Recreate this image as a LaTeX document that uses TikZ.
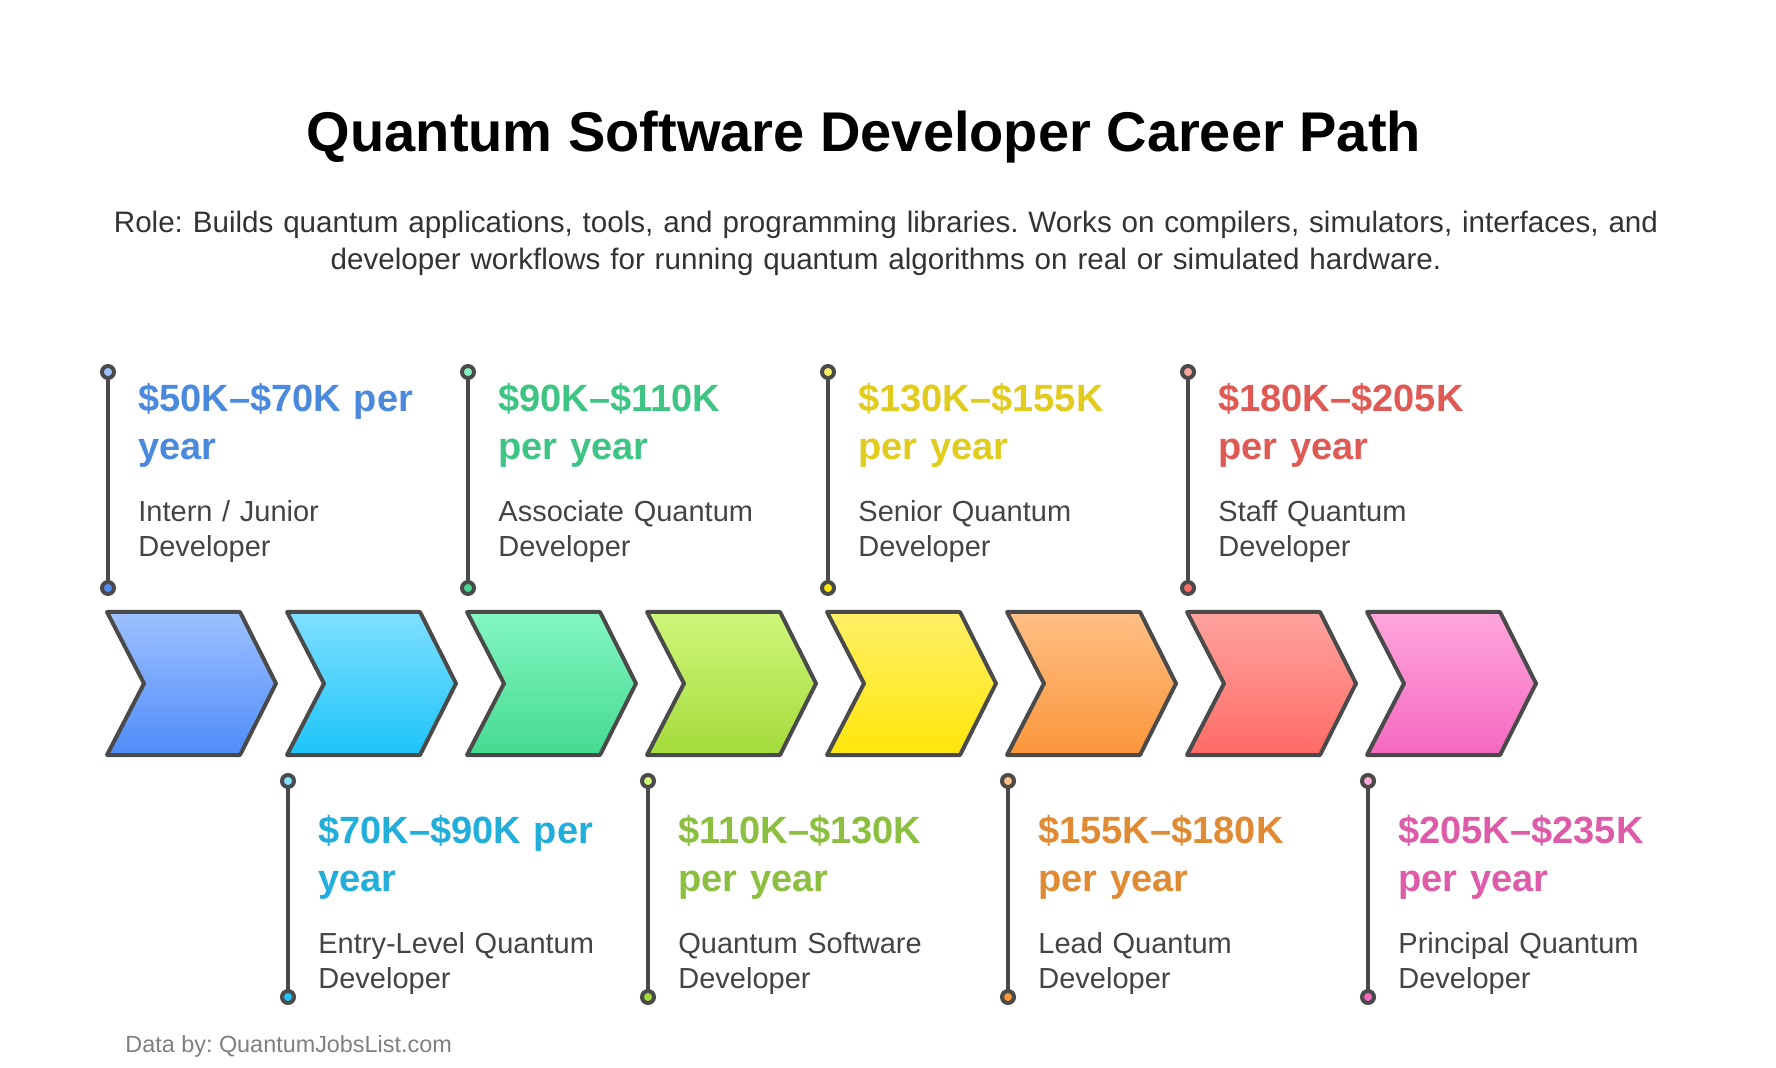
\documentclass[tikz,border=0pt]{standalone}
\usepackage{fontspec}
\setmainfont{Liberation Sans}
\frenchspacing

\definecolor{edgegray}{HTML}{4A4A4A}
\definecolor{rolegray}{HTML}{444444}
\definecolor{subgray}{HTML}{333333}
\definecolor{footgray}{HTML}{808080}
\definecolor{blueA}{HTML}{9DC1FF}\definecolor{blueB}{HTML}{4F8CF8}\definecolor{blueT}{HTML}{4A89DC}
\definecolor{cyanA}{HTML}{80E0FF}\definecolor{cyanB}{HTML}{1CC4F9}\definecolor{cyanT}{HTML}{22AEDB}
\definecolor{greenA}{HTML}{83F7C3}\definecolor{greenB}{HTML}{45DA90}\definecolor{greenT}{HTML}{3EC583}
\definecolor{limeA}{HTML}{CEF77A}\definecolor{limeB}{HTML}{A5DB3B}\definecolor{limeT}{HTML}{8CBF3F}
\definecolor{yellowA}{HTML}{FFF066}\definecolor{yellowB}{HTML}{FFE60A}\definecolor{yellowT}{HTML}{E1CB1C}
\definecolor{orangeA}{HTML}{FFBF85}\definecolor{orangeB}{HTML}{FA963A}\definecolor{orangeT}{HTML}{E08B34}
\definecolor{redA}{HTML}{FFA39E}\definecolor{redB}{HTML}{FF6B66}\definecolor{redT}{HTML}{E05A55}
\definecolor{pinkA}{HTML}{FFA6DC}\definecolor{pinkB}{HTML}{F568C0}\definecolor{pinkT}{HTML}{DE5BA9}

\begin{document}
\begin{tikzpicture}[x=0.5pt, y=-0.5pt,
    chevron/.style={draw=edgegray, line width=2pt, line join=round},
    marker/.style={draw=edgegray, line width=2.2pt},
    dot/.style={draw=edgegray, line width=2pt},
    price/.style={anchor=base west, inner sep=0, text width=170pt, align=left, font=\bfseries\fontsize{19}{24}\selectfont},
    role/.style={anchor=base west, inner sep=0, text width=170pt, align=left, text=rolegray, font=\fontsize{14.5}{17.5}\selectfont}
    ]

    \fill[white] (0,0) rectangle (1776,1068);
    \useasboundingbox (0,0) rectangle (1776,1068);

    % Title and role
    \node[anchor=base, inner sep=0, font=\bfseries\fontsize{28}{34}\selectfont] (title) at (864,152) {Quantum Software Developer Career Path};
    \node[anchor=base, inner sep=0, text width=870pt, align=center, text=subgray, font=\fontsize{14.8}{18.5}\selectfont] (subtitle) at (886,233)
        {Role: Builds quantum applications, tools, and programming libraries. Works on compilers, simulators, interfaces, and\\
         developer workflows for running quantum algorithms on real or simulated hardware.};

    % Chevrons
    \draw[chevron, top color=blueA, bottom color=blueB] (107,612) -- ++(133,0) -- ++(36,71.5) -- ++(-36,71.5) -- ++(-133,0) -- ++(37,-71.5) -- cycle;
    \draw[chevron, top color=cyanA, bottom color=cyanB] (287,612) -- ++(133,0) -- ++(36,71.5) -- ++(-36,71.5) -- ++(-133,0) -- ++(37,-71.5) -- cycle;
    \draw[chevron, top color=greenA, bottom color=greenB] (467,612) -- ++(133,0) -- ++(36,71.5) -- ++(-36,71.5) -- ++(-133,0) -- ++(37,-71.5) -- cycle;
    \draw[chevron, top color=limeA, bottom color=limeB] (647,612) -- ++(133,0) -- ++(36,71.5) -- ++(-36,71.5) -- ++(-133,0) -- ++(37,-71.5) -- cycle;
    \draw[chevron, top color=yellowA, bottom color=yellowB] (827,612) -- ++(133,0) -- ++(36,71.5) -- ++(-36,71.5) -- ++(-133,0) -- ++(37,-71.5) -- cycle;
    \draw[chevron, top color=orangeA, bottom color=orangeB] (1007,612) -- ++(133,0) -- ++(36,71.5) -- ++(-36,71.5) -- ++(-133,0) -- ++(37,-71.5) -- cycle;
    \draw[chevron, top color=redA, bottom color=redB] (1187,612) -- ++(133,0) -- ++(36,71.5) -- ++(-36,71.5) -- ++(-133,0) -- ++(37,-71.5) -- cycle;
    \draw[chevron, top color=pinkA, bottom color=pinkB] (1367,612) -- ++(133,0) -- ++(36,71.5) -- ++(-36,71.5) -- ++(-133,0) -- ++(37,-71.5) -- cycle;

    % Marker ends
    \coordinate (m1a) at (108,372);  \coordinate (m1b) at (108,588);
    \coordinate (m2a) at (288,781);  \coordinate (m2b) at (288,997);
    \coordinate (m3a) at (468,372);  \coordinate (m3b) at (468,588);
    \coordinate (m4a) at (648,781);  \coordinate (m4b) at (648,997);
    \coordinate (m5a) at (828,372);  \coordinate (m5b) at (828,588);
    \coordinate (m6a) at (1008,781); \coordinate (m6b) at (1008,997);
    \coordinate (m7a) at (1188,372); \coordinate (m7b) at (1188,588);
    \coordinate (m8a) at (1368,781); \coordinate (m8b) at (1368,997);

    % Marker lines
    \draw[marker] (m1a) -- (m1b);
    \draw[marker] (m2a) -- (m2b);
    \draw[marker] (m3a) -- (m3b);
    \draw[marker] (m4a) -- (m4b);
    \draw[marker] (m5a) -- (m5b);
    \draw[marker] (m6a) -- (m6b);
    \draw[marker] (m7a) -- (m7b);
    \draw[marker] (m8a) -- (m8b);

    \draw[dot, fill=blueA] (m1a) circle[radius=6];   \draw[dot, fill=blueB] (m1b) circle[radius=6];
    \draw[dot, fill=cyanA] (m2a) circle[radius=6];   \draw[dot, fill=cyanB] (m2b) circle[radius=6];
    \draw[dot, fill=greenA] (m3a) circle[radius=6];  \draw[dot, fill=greenB] (m3b) circle[radius=6];
    \draw[dot, fill=limeA] (m4a) circle[radius=6];   \draw[dot, fill=limeB] (m4b) circle[radius=6];
    \draw[dot, fill=yellowA] (m5a) circle[radius=6]; \draw[dot, fill=yellowB] (m5b) circle[radius=6];
    \draw[dot, fill=orangeA] (m6a) circle[radius=6]; \draw[dot, fill=orangeB] (m6b) circle[radius=6];
    \draw[dot, fill=redA] (m7a) circle[radius=6];    \draw[dot, fill=redB] (m7b) circle[radius=6];
    \draw[dot, fill=pinkA] (m8a) circle[radius=6];   \draw[dot, fill=pinkB] (m8b) circle[radius=6];

    % Salaries and roles
    \node[price, text=blueT] (price1) at (138,412) {\$50K–\$70K per\\year};
    \node[role] (role1) at (138,522) {Intern / Junior\\Developer};
    \node[price, text=cyanT] (price2) at (318,843) {\$70K–\$90K per\\year};
    \node[role] (role2) at (318,953) {Entry-Level Quantum\\Developer};
    \node[price, text=greenT] (price3) at (498,412) {\$90K–\$110K\\per year};
    \node[role] (role3) at (498,522) {Associate Quantum\\Developer};
    \node[price, text=limeT] (price4) at (678,843) {\$110K–\$130K\\per year};
    \node[role] (role4) at (678,953) {Quantum Software\\Developer};
    \node[price, text=yellowT] (price5) at (858,412) {\$130K–\$155K\\per year};
    \node[role] (role5) at (858,522) {Senior Quantum\\Developer};
    \node[price, text=orangeT] (price6) at (1038,843) {\$155K–\$180K\\per year};
    \node[role] (role6) at (1038,953) {Lead Quantum\\Developer};
    \node[price, text=redT] (price7) at (1218,412) {\$180K–\$205K\\per year};
    \node[role] (role7) at (1218,522) {Staff Quantum\\Developer};
    \node[price, text=pinkT] (price8) at (1398,843) {\$205K–\$235K\\per year};
    \node[role] (role8) at (1398,953) {Principal Quantum\\Developer};

    % Source
    \node[anchor=base west, inner sep=0, text=footgray, font=\fontsize{11.7}{14}\selectfont] (source) at (125,1052) {Data by: QuantumJobsList.com};

\end{tikzpicture}
\end{document}
